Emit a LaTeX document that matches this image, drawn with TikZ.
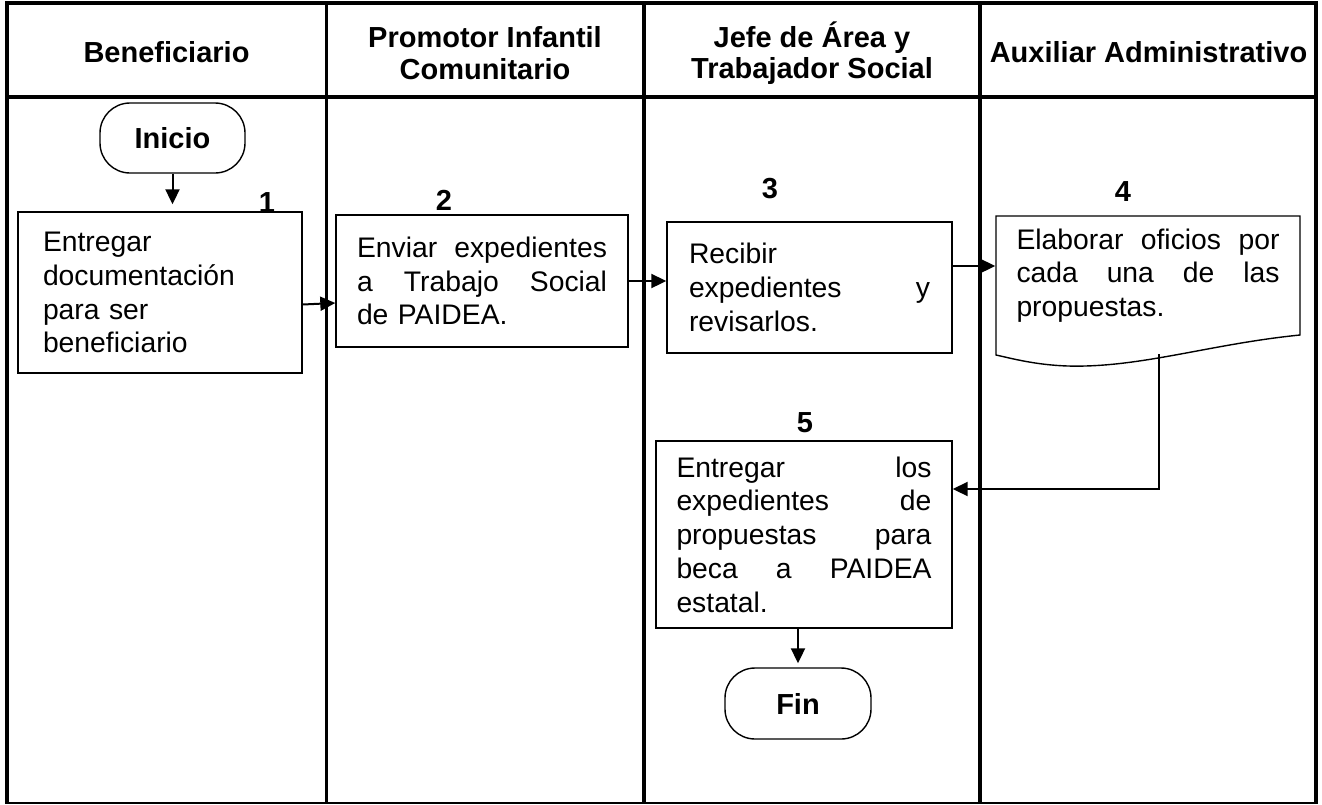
\documentclass[tikz,border=0pt]{standalone}
\usepackage{fontspec}
\setmainfont{Liberation Sans}
\usetikzlibrary{arrows.meta,calc}
\newcommand\myBody{\fontsize{28.3}{33.8}\selectfont}
\newcommand\myHead{\fontsize{29}{31.5}\selectfont\bfseries}
\begin{document}
\begin{tikzpicture}[x=1pt,y=-1pt,
  box/.style={draw,line width=1.4pt,inner sep=0pt,align=left,font=\myBody},
  term/.style={draw,line width=1.4pt,rounded corners=30pt,minimum width=145pt,minimum height=70pt,inner sep=0pt,font=\myHead},
  hdr/.style={align=center,font=\myHead,inner sep=0pt},
  lbl/.style={font=\myHead,inner sep=0pt},
  arr/.style={line width=2pt,-{Triangle[length=15pt,width=14pt]}},
  frame/.style={line width=4pt},
  lane/.style={line width=3.5pt}]
\useasboundingbox (0,0) rectangle (1322,804);
% frame and lanes
\draw[frame] (5,3) -- (1318,3);
\draw[frame] (7,1) -- (7,803);
\draw[lane] (1316,1) -- (1316,803);
\draw[line width=2pt] (5,802.5) -- (1318,802.5);
\draw[frame] (5,96.5) -- (1318,96.5);
\foreach \x in {326.5,644,980} \draw[lane] (\x,1) -- (\x,803);
% headers
\node[hdr] (h1) at (166.5,52) {Beneficiario};
\node[hdr] (h2) at (485,53) {Promotor Infantil\\Comunitario};
\node[hdr] (h3) at (812,53) {Jefe de Área y\\Trabajador Social};
\node[hdr] (h4) at (1148.5,52) {Auxiliar Administrativo};
% nodes
\node[term] (ini) at (172.5,138) {Inicio};
\node[box,text width=234pt,minimum width=284pt,minimum height=161pt] (b1) at (160,292.5)
  {Entregar\\documentación\\para ser\\beneficiario};
\node[box,text width=250pt,minimum width=292pt,minimum height=132pt] (b2) at (482,281)
  {Enviar\hfill expedientes\\a\hfill Trabajo\hfill Social\\de PAIDEA.};
\node[box,text width=241pt,minimum width=285pt,minimum height=131pt] (b3) at (809.5,287.5)
  {Recibir\\expedientes\hfill y\\revisarlos.};
\node[box,draw=none,text width=263pt,minimum width=304pt,minimum height=119pt] (b4) at (1148,275.5)
  {Elaborar\hfill oficios\hfill por\\cada\hfill una\hfill de\hfill las\\propuestas.};
\draw[line width=1.4pt] (996,355) -- (996,216) -- (1300,216) -- (1300,335)
  .. controls (1210,344) and (1140,368) .. (1068,366)
  .. controls (1035,365) and (1010,358) .. (996,355) -- cycle;
\coordinate (w) at (1159,354);
\node[box,text width=255pt,minimum width=296pt,minimum height=187pt] (b5) at (804,534.5)
  {Entregar\hfill los\\expedientes\hfill de\\propuestas\hfill para\\beca\hfill a\hfill PAIDEA\\estatal.};
\node[term,minimum width=146pt,minimum height=71pt] (fin) at (798,703.5) {Fin};
% labels
\node[lbl] (n1) at (267,203) {1};
\node[lbl] (n2) at (444,200) {2};
\node[lbl] (n3) at (770,189) {3};
\node[lbl] (n4) at (1123,192) {4};
\node[lbl] (n5) at (805,423) {5};
% connectors
\draw[arr,shorten >=7pt] (ini.south) -- (ini.south |- b1.north);
\draw[arr] ($(b1.east)+(0,12)$) -- ($(b2.west)+(0,22)$);
\draw[arr] (b2.east) -- (b3.west |- b2.east);
\draw[arr] (b3.east |- 0,266) -- (b4.west |- 0,266);
\draw[arr] (w) |- (b5.east |- 0,489);
\draw[arr,shorten >=4pt] (fin.north |- b5.south) -- (fin.north);
\end{tikzpicture}
\end{document}
